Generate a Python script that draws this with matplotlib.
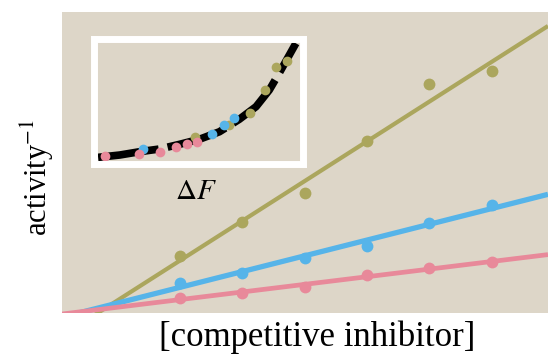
import numpy as np
import matplotlib
matplotlib.use("Agg")
import matplotlib.pyplot as plt

plt.rcParams["font.family"] = ["Liberation Serif", "DejaVu Serif"]
plt.rcParams["mathtext.fontset"] = "stix"

# концентрация ингибитора (условные единицы)
inhib = [1, 2, 3, 4, 5, 6]
# обратная активность для трёх концентраций субстрата
act_olive = [1.89, 3.02, 3.99, 5.71, 7.61, 8.04]
act_blue = [1.00, 1.33, 1.83, 2.23, 2.99, 3.59]
act_pink = [0.50, 0.66, 0.86, 1.26, 1.50, 1.69]

# вставка: кривая и точки в координатах ΔF
curve_x = [0.6, 11.4, 21.4, 31.3, 41.3, 51.2, 61.2, 71.1, 79.5, 86.1, 91.0, 95.2, 99.4]
curve_y = [4.6, 6.5, 9.2, 11.4, 15.2, 19.3, 25.4, 35.5, 45.8, 59.3, 72.9, 85.1, 97.3]
ins_olive_x = [48.8, 66.2, 76.6, 84.1, 89.6, 95.0]
ins_olive_y = [21.1, 30.9, 40.7, 59.3, 78.0, 82.9]
ins_blue_x = [22.9, 57.7, 63.7, 68.7]
ins_blue_y = [11.4, 23.6, 30.9, 36.6]
ins_pink_x = [4.0, 20.9, 31.3, 39.3, 44.8, 49.8]
ins_pink_y = [5.7, 7.3, 8.9, 13.0, 15.4, 17.1]

bg = "#DDD6C8"
c_olive = "#ABA65D"
c_blue = "#56B4E9"
c_pink = "#E8899A"

fig = plt.figure(figsize=(5.48, 3.56), dpi=100)
ax = fig.add_axes([62 / 548, 1 - 313 / 356, 486 / 548, 301 / 356])
ax.set_facecolor(bg)
ax.set_xlim(-0.89, 6.9)
ax.set_ylim(0, 10)

xx = np.array([-0.89, 6.9])
series = [(act_olive, c_olive, 3.0), (act_blue, c_blue, 3.8), (act_pink, c_pink, 3.4)]
for ys, col, lw in series:
    # прямая по методу наименьших квадратов
    k, b = np.polyfit(inhib, ys, 1)
    ax.plot(xx, k * xx + b, color=col, lw=lw, solid_capstyle="butt")
    ax.plot(inhib, ys, "o", color=col, ms=8.5, mec="none")

ax.set_xticks([])
ax.set_yticks([])
for s in ax.spines.values():
    s.set_visible(False)

# вставка с белой рамкой
ins = fig.add_axes([93.5 / 548, 1 - 164 / 356, 209 / 548, 125.5 / 356])
ins.set_facecolor(bg)
ins.set_xlim(-1.7, 102.7)
ins.set_ylim(-0.8, 101.2)
ins.set_xticks([])
ins.set_yticks([])
for s in ins.spines.values():
    s.set_color("white")
    s.set_linewidth(5)
ins.plot(curve_x, curve_y, color="black", lw=5.5, dashes=(8, 1.2))
ins.plot(ins_olive_x, ins_olive_y, "o", color=c_olive, ms=7, mec="none")
ins.plot(ins_blue_x, ins_blue_y, "o", color=c_blue, ms=7, mec="none")
ins.plot(ins_pink_x, ins_pink_y, "o", color=c_pink, ms=7, mec="none")

fig.text(196 / 548, 1 - 192 / 356, r"$\Delta F$", fontsize=21, ha="center", va="center")
fig.text(37 / 548, 0.501, r"activity$^{-1}$", fontsize=22, rotation=90,
         ha="center", va="center")
fig.text(317 / 548, 1 - 346 / 356, "[competitive inhibitor]", fontsize=25,
         ha="center", va="baseline")

fig.savefig("out.png", dpi=100, facecolor="white")
